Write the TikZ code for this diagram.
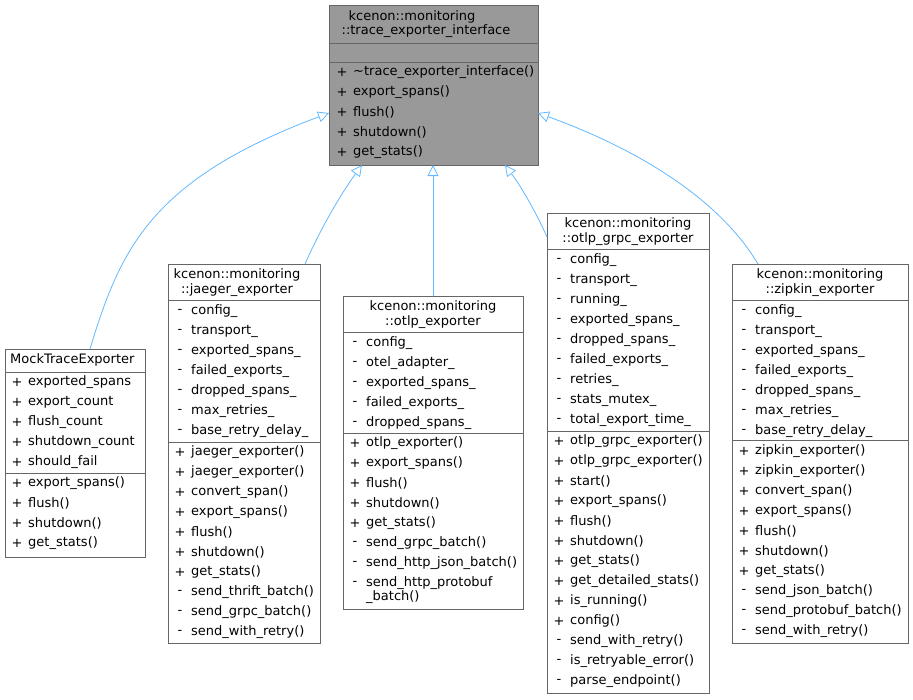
\documentclass[tikz,border=0pt]{standalone}
\usepackage{fontspec}
\setmainfont{DejaVu Sans}
\usetikzlibrary{arrows.meta}
\definecolor{edgeblue}{HTML}{63B8FF}
\definecolor{boxline}{HTML}{666666}
\tikzset{
  cls/.style={draw=boxline, fill=white, line width=0.8pt},
  row/.style={anchor=west, inner sep=0pt, font=\fontsize{13}{14}\selectfont},
  sgn/.style={anchor=center, inner sep=0pt, font=\fontsize{13}{14}\selectfont},
  ttl/.style={anchor=center, inner sep=0pt, font=\fontsize{13}{14}\selectfont},
  inh/.style={draw=edgeblue, line width=0.8pt, -{Triangle[open, length=11pt, width=11pt]}}
}
% rows: x, y of first row centre, list
\newcommand{\rows}[3]{%
  \foreach \s/\t [count=\i] in {#3}{
    \node[sgn] at (#1+5, #2+20*\i-20) {\s};
    \node[row] at (#1+16, #2+20*\i-20) {\t};}}

\begin{document}
\begin{tikzpicture}[x=1pt, y=-1pt]
\useasboundingbox (0,0) rectangle (913,699);

% base class
\draw[cls, fill=gray!80] (329,5) rectangle (538,165);
\coordinate (top) at (433,165);
\coordinate (topw) at (329,113);
\coordinate (tope) at (538,113);
\draw[boxline] (329,43) -- (538,43) (329,62) -- (538,62);
\node[ttl] (topt1) at (412,17) {kcenon::monitoring};
\node[ttl] (topt2) at (426,31) {::trace\_exporter\_interface};
\rows{337}{72}{+/\textasciitilde trace\_exporter\_interface(), +/export\_spans(), +/flush(), +/shutdown(), +/get\_stats()}

% mock
\draw[cls] (5,349) rectangle (145,557);
\coordinate (mock) at (90,349);
\draw[boxline] (5,372) -- (145,372) (5,473) -- (145,473);
\node[row] (mockt) at (10,360) {MockTraceExporter};
\rows{12}{382}{+/exported\_spans, +/export\_count, +/flush\_count, +/shutdown\_count, +/should\_fail}
\rows{12}{483}{+/export\_spans(), +/flush(), +/shutdown(), +/get\_stats()}

% jaeger
\draw[cls] (168,264) rectangle (320,643);
\coordinate (jaeger) at (305,264);
\draw[boxline] (168,300) -- (320,300) (168,442) -- (320,442);
\node[ttl] (jt1) at (237,275) {kcenon::monitoring};
\node[ttl] (jt2) at (237,290) {::jaeger\_exporter};
\rows{175}{311}{-/config\_, -/transport\_, -/exported\_spans\_, -/failed\_exports\_, -/dropped\_spans\_, -/max\_retries\_, -/base\_retry\_delay\_}
\rows{175}{452}{+/jaeger\_exporter(), +/jaeger\_exporter(), +/convert\_span(), +/export\_spans(), +/flush(), +/shutdown(), +/get\_stats(), -/send\_thrift\_batch(), -/send\_grpc\_batch(), -/send\_with\_retry()}

% otlp
\draw[cls] (343,296) rectangle (523,609);
\coordinate (otlp) at (433,296);
\draw[boxline] (343,332) -- (523,332) (343,433) -- (523,433);
\node[ttl] (ot1) at (433,307) {kcenon::monitoring};
\node[ttl] (ot2) at (433,322) {::otlp\_exporter};
\rows{350}{343}{-/config\_, -/otel\_adapter\_, -/exported\_spans\_, -/failed\_exports\_, -/dropped\_spans\_}
\rows{350}{443}{+/otlp\_exporter(), +/export\_spans(), +/flush(), +/shutdown(), +/get\_stats(), -/send\_grpc\_batch(), -/send\_http\_json\_batch()}
\node[sgn] (ob0) at (355,583) {-};
\node[row] (ob1) at (366,583) {send\_http\_protobuf};
\node[row] (ob2) at (366,597) {\_batch()};

% otlp grpc
\draw[cls] (547,213) rectangle (709,693);
\coordinate (grpc) at (547,237);
\draw[boxline] (547,249) -- (709,249) (547,431) -- (709,431);
\node[ttl] (gt1) at (628,224) {kcenon::monitoring};
\node[ttl] (gt2) at (628,239) {::otlp\_grpc\_exporter};
\rows{554}{260}{-/config\_, -/transport\_, -/running\_, -/exported\_spans\_, -/dropped\_spans\_, -/failed\_exports\_, -/retries\_, -/stats\_mutex\_, -/total\_export\_time\_}
\rows{554}{441}{+/otlp\_grpc\_exporter(), +/otlp\_grpc\_exporter(), +/start(), +/export\_spans(), +/flush(), +/shutdown(), +/get\_stats(), +/get\_detailed\_stats(), +/is\_running(), +/config(), -/send\_with\_retry(), -/is\_retryable\_error(), -/parse\_endpoint()}

% zipkin
\draw[cls] (732,264) rectangle (908,643);
\coordinate (zipkin) at (758,264);
\draw[boxline] (732,300) -- (908,300) (732,440) -- (908,440);
\node[ttl] (zt1) at (820,275) {kcenon::monitoring};
\node[ttl] (zt2) at (820,290) {::zipkin\_exporter};
\rows{739}{311}{-/config\_, -/transport\_, -/exported\_spans\_, -/failed\_exports\_, -/dropped\_spans\_, -/max\_retries\_, -/base\_retry\_delay\_}
\rows{739}{451}{+/zipkin\_exporter(), +/zipkin\_exporter(), +/convert\_span(), +/export\_spans(), +/flush(), +/shutdown(), +/get\_stats(), -/send\_json\_batch(), -/send\_protobuf\_batch(), -/send\_with\_retry()}

% inheritance
\draw[inh] (mock) .. controls (120,250) and (150,180) .. (topw);
\draw[inh] (jaeger) .. controls (320,230) and (340,195) .. (362,165);
\draw[inh] (otlp) -- (top);
\draw[inh] (grpc) .. controls (535,210) and (520,185) .. (505,165);
\draw[inh] (zipkin) .. controls (720,200) and (640,150) .. (tope);
\end{tikzpicture}
\end{document}
